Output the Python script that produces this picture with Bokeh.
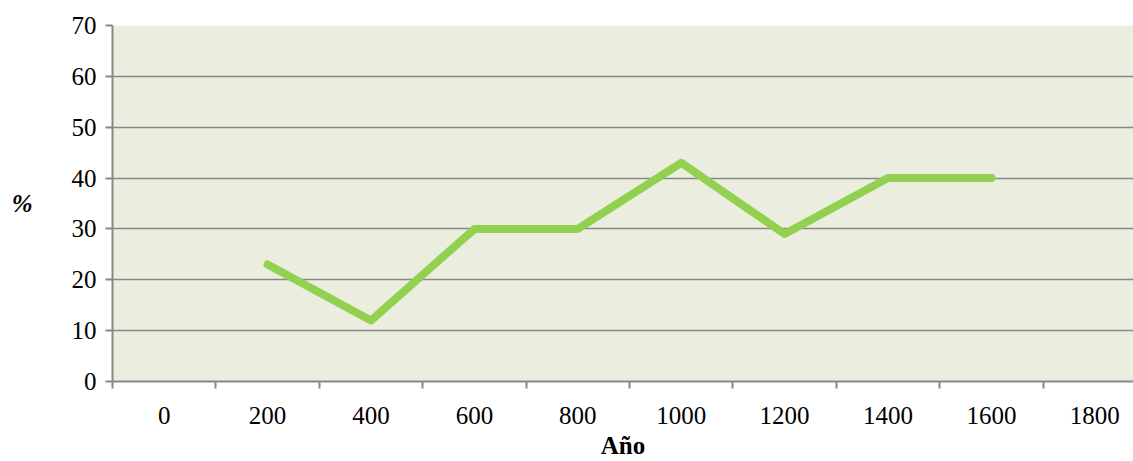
from bokeh.plotting import figure
from bokeh.models import FixedTicker, Range1d
from bokeh.embed import file_html
from bokeh.resources import INLINE
import numpy as np

# Data
years = ["0", "200", "400", "600", "800", "1000", "1200", "1400", "1600", "1800"]
percent = [None, 23, 12, 30, 30, 43, 29, 40, 40, None]

xs = [i + 0.5 for i in range(len(years))]
ys = [np.nan if v is None else v for v in percent]

p = figure(width=1133, height=461, output_backend="svg", toolbar_location=None,
           x_range=Range1d(0, 9.874), y_range=Range1d(0, 70),
           min_border_left=112, min_border_right=0, min_border_top=25, min_border_bottom=79)
p.background_fill_color = "#EBEEDE"
p.border_fill_color = "white"
p.outline_line_color = None

p.line(xs, ys, line_color="#92D050", line_width=8, line_cap="round", line_join="round")

font = "Liberation Serif"
gray = "#878787"

# X axis
p.xaxis.ticker = FixedTicker(ticks=xs, minor_ticks=list(range(len(years) + 1)))
p.xaxis.major_label_overrides = {x: y for x, y in zip(xs, years)}
p.xaxis.major_tick_out = 0
p.xaxis.major_tick_in = 0
p.xaxis.minor_tick_out = 7
p.xaxis.minor_tick_in = 0
p.xaxis.minor_tick_line_color = gray
p.xaxis.minor_tick_line_width = 2
p.xaxis.axis_line_color = gray
p.xaxis.axis_line_width = 2
p.xaxis.major_label_text_font = font
p.xaxis.major_label_text_font_size = "25px"
p.xaxis.major_label_text_color = "black"
p.xaxis.major_label_standoff = 18
p.xaxis.axis_label = "Año"
p.xaxis.axis_label_text_font = font
p.xaxis.axis_label_text_font_size = "25px"
p.xaxis.axis_label_text_font_style = "bold"
p.xaxis.axis_label_text_color = "black"
p.xaxis.axis_label_standoff = 5

# Y axis
p.yaxis.ticker = FixedTicker(ticks=list(range(0, 71, 10)))
p.yaxis.major_tick_out = 7
p.yaxis.major_tick_in = 0
p.yaxis.minor_tick_line_color = None
p.yaxis.major_tick_line_color = gray
p.yaxis.major_tick_line_width = 2
p.yaxis.axis_line_color = gray
p.yaxis.axis_line_width = 2
p.yaxis.major_label_text_font = font
p.yaxis.major_label_text_font_size = "25px"
p.yaxis.major_label_text_color = "black"
p.yaxis.major_label_standoff = 9
p.yaxis.axis_label = "%"
p.yaxis.axis_label_orientation = "horizontal"
p.yaxis.axis_label_text_font = font
p.yaxis.axis_label_text_font_size = "25px"
p.yaxis.axis_label_text_font_style = "bold italic"
p.yaxis.axis_label_text_color = "black"
p.yaxis.axis_label_standoff = 36

p.xgrid.grid_line_color = None
p.ygrid.ticker = FixedTicker(ticks=list(range(0, 71, 10)))
p.ygrid.grid_line_color = gray
p.ygrid.grid_line_width = 1.5

open("out.html", "w").write(file_html(p, INLINE))
